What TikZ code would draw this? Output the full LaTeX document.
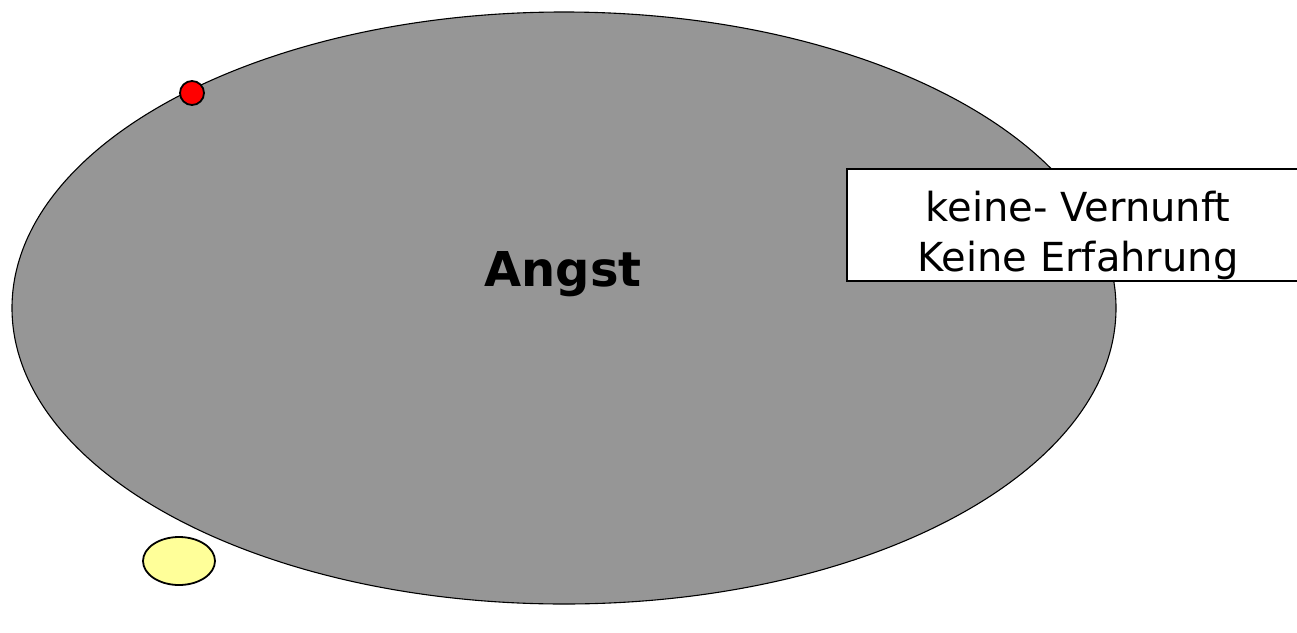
\documentclass[tikz,border=0pt]{standalone}
\usepackage{fontspec}
\setmainfont{DejaVu Sans}
\usetikzlibrary{shapes.geometric}
\definecolor{biggray}{HTML}{969696}
\definecolor{paleyellow}{HTML}{FFFF99}
\tikzset{
  outline/.style={draw=black, line width=1.1pt},
  smallshape/.style={draw=black, line width=1.8pt, inner sep=0pt, ellipse},
}
\begin{document}
\begin{tikzpicture}[x=1pt, y=-1pt]
\useasboundingbox (0,0) rectangle (1297,632);
\clip (0,0) rectangle (1297,632);
\node[ellipse, outline, fill=biggray, inner sep=0pt, minimum width=1104pt, minimum height=592pt] (fear) at (564,308) {};
\node[font=\fontsize{48}{58}\selectfont\bfseries] (angst) at (563,274) {Angst};
\node[smallshape, fill=red, minimum width=24pt, minimum height=24pt] (dot) at (192,93) {};
\node[smallshape, fill=paleyellow, minimum width=72pt, minimum height=48pt] (yel) at (179,561) {};
\node[draw=black, line width=1.5pt, fill=white, minimum width=462pt, minimum height=112pt, inner sep=0pt] (box) at (1078,225) {};
\node[inner sep=0pt, align=center, font=\fontsize{40}{50}\selectfont] (boxtext) at (1078,235) {keine- Vernunft\\Keine Erfahrung};
\end{tikzpicture}
\end{document}
